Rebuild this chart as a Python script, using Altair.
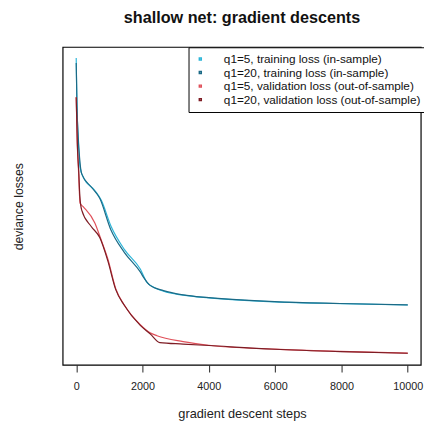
import altair as alt
import pandas as pd

# series (steps, deviance loss in arbitrary units)
s_tr5 = [0, 20, 50, 80, 118, 216, 562, 757, 1053, 1450, 1932, 2139, 2338, 2633, 3225, 4003, 5986, 7960, 10000]
l_tr5 = [31.13, 30.68, 30.38, 30.18, 30.013, 29.913, 29.78, 29.68, 29.413, 29.18, 28.98, 28.84, 28.795, 28.753, 28.713, 28.685, 28.645, 28.627, 28.613]

s_tr20 = [0, 25, 60, 100, 166, 462, 710, 1044, 1450, 1932, 2042, 2228, 2633, 3225, 4003, 5986, 7960, 10000]
l_tr20 = [31.08, 30.62, 30.33, 30.12, 29.95, 29.813, 29.70, 29.38, 29.15, 28.95, 28.89, 28.813, 28.76, 28.716, 28.688, 28.647, 28.628, 28.614]

s_va5 = [0, 30, 70, 100, 118, 216, 562, 749, 956, 1192, 1450, 1932, 2228, 2435, 3225, 4003, 5986, 7960, 10000]
l_va5 = [30.73, 30.28, 29.98, 29.73, 29.65, 29.613, 29.45, 29.28, 29.08, 28.78, 28.613, 28.413, 28.33, 28.30, 28.24, 28.203, 28.163, 28.14, 28.123]

s_va20 = [0, 35, 80, 110, 166, 453, 710, 956, 1192, 1450, 1932, 2228, 2524, 3225, 4003, 5986, 7960, 10000]
l_va20 = [30.73, 30.25, 29.95, 29.72, 29.58, 29.413, 29.30, 29.06, 28.77, 28.61, 28.405, 28.32, 28.23, 28.215, 28.2, 28.162, 28.138, 28.121]

labels = [
    "q1=5, training loss (in-sample)",
    "q1=20, training loss (in-sample)",
    "q1=5, validation loss (out-of-sample)",
    "q1=20, validation loss (out-of-sample)",
]
colors = ["#2bb5d8", "#1b6a86", "#e0505a", "#7e1c24"]
x_ticks = [0, 2000, 4000, 6000, 8000, 10000]

rows = []
for lab, ss, ll in zip(labels, [s_tr5, s_tr20, s_va5, s_va20], [l_tr5, l_tr20, l_va5, l_va20]):
    for i, (s, l) in enumerate(zip(ss, ll)):
        rows.append({"series": lab, "step": s, "loss": l, "order": i})
df = pd.DataFrame(rows)

font = "Liberation Sans"
W, H = 365, 324

lines = alt.Chart(df).mark_line(strokeWidth=1.2, interpolate="monotone").encode(
    x=alt.X("step:Q",
            scale=alt.Scale(domain=[-400, 10400], nice=False, zero=False),
            axis=alt.Axis(values=x_ticks, title="gradient descent steps", grid=False,
                          domain=False, tickColor="#222", tickSize=7, labelPadding=9,
                          labelFontSize=11, labelColor="#222", labelFont=font,
                          titleFont=font, titleFontSize=13, titleFontWeight="normal",
                          titleColor="#222", titlePadding=16, format="d", labelFlush=False)),
    y=alt.Y("loss:Q",
            scale=alt.Scale(domain=[28.0, 31.24], nice=False, zero=False),
            axis=alt.Axis(labels=False, ticks=False, domain=False, grid=False,
                          title="deviance losses", titleFont=font, titleFontSize=12.5,
                          titleFontWeight="normal", titleColor="#222", titlePadding=38)),
    color=alt.Color("series:N",
                    scale=alt.Scale(domain=labels, range=colors),
                    legend=alt.Legend(title=None, orient="none", legendX=128, legendY=0,
                                      symbolType="square", symbolSize=4, symbolStrokeWidth=1.5,
                                      labelFont=font, labelFontSize=12, labelColor="#111",
                                      strokeColor="black", fillColor="white", padding=6,
                                      rowPadding=1.8, labelOffset=18, labelLimit=300)),
    order="order:Q",
    detail="series:N",
)

frame = alt.Chart(pd.DataFrame({"f": [0]})).mark_rect(
    fill="transparent", stroke="black", strokeWidth=1.2
).encode(x=alt.value(0), x2=alt.value(W), y=alt.value(0), y2=alt.value(H))

chart = alt.layer(lines, frame).properties(
    width=W,
    height=H,
    background="white",
    title=alt.TitleParams("shallow net: gradient descents", font=font, fontSize=16.5,
                          fontWeight="bold", color="#111", anchor="middle", offset=21),
    autosize=alt.AutoSizeParams(type="none"),
    padding={"left": 56, "top": 36, "right": 3, "bottom": 58},
).configure_view(stroke=None)

chart.save("out.html", embed_options={"renderer": "svg", "actions": False})
